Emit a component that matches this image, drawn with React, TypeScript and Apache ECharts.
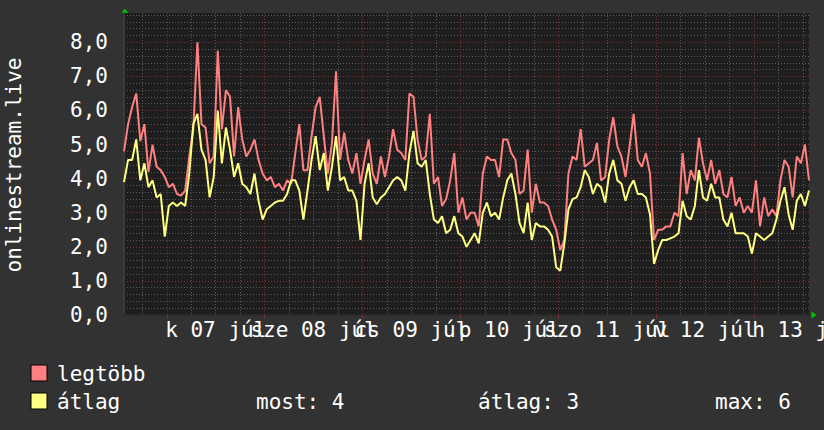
import React, { useEffect, useRef } from "react";
import * as echarts from "echarts";

// hourly samples over one week, starting 06 júl 13:30
const maxVals = [
  4.8, 5.6, 6.1, 6.5, 5.1, 5.6, 4.2, 5.0, 4.35, 4.25,
  4.05, 3.75, 3.85, 3.55, 3.5, 3.65, 4.65, 5.45, 8.0, 5.6,
  5.5, 4.45, 4.65, 7.75, 5.45, 6.6, 6.4, 4.65, 6.1, 5.15,
  4.65, 4.85, 5.15, 4.55, 4.15, 3.95, 4.05, 3.75, 3.85, 3.65,
  3.95, 3.85,
  4.75, 5.6, 4.25, 4.25, 5.25, 6.1, 6.4, 5.25,
  4.15, 5.05, 7.15, 4.55, 5.35, 4.55, 4.15, 4.75, 3.85, 4.55,
  5.15, 4.15, 3.85, 4.65, 4.05, 4.65, 5.45, 4.85, 4.75, 4.55,
  6.5, 6.4, 5.15, 4.55, 4.65, 5.9, 3.85, 4.05, 3.2, 3.4,
  3.95, 4.75, 3.0, 3.45, 2.8,
  3.0, 3.0, 2.6, 4.15, 4.65,
  4.55, 4.55, 4.05, 5.15, 5.15, 4.75, 4.55, 3.55, 3.65, 4.85,
  3.0, 3.85, 3.3, 3.3, 3.2, 2.8, 2.5, 1.9, 2.2, 4.15,
  4.65, 4.55, 5.45, 4.35, 4.45, 4.55, 5.05, 3.95, 4.05, 5.15,
  5.8, 4.95, 4.65, 4.05, 4.95, 5.9, 4.55,
  4.35, 4.75, 4.15,
  2.2, 2.5, 2.5, 2.6, 2.6, 3.0, 2.9, 4.75, 3.55, 4.25,
  3.95, 5.2, 4.45, 3.95, 4.55, 3.85, 4.25, 3.55, 3.45, 4.05,
  3.2, 3.45, 3.0, 3.2, 3.0, 3.95, 2.6, 3.45, 2.9, 3.1,
  2.9, 3.95, 4.55, 4.35, 3.45, 4.65, 4.45, 5.0, 3.95,
];

const avgVals = [
  3.9, 4.55, 4.55, 5.15, 3.95, 4.45, 3.75, 3.95, 3.45, 3.55,
  2.3, 3.2, 3.3, 3.2, 3.3, 3.2, 4.15, 5.6, 5.9, 4.85,
  4.55, 3.45, 4.05, 6.0, 4.45, 5.5, 4.85, 4.05, 4.45, 3.85,
  3.75, 3.55, 4.15, 3.35, 2.8, 3.1, 3.2, 3.3, 3.35, 3.35,
  3.55, 3.95,
  3.95, 3.65, 2.8, 3.65, 4.55, 5.25, 4.25, 4.75,
  3.65, 4.35, 5.25, 3.95, 4.05, 3.65, 3.65, 3.35, 2.2, 3.85,
  4.45, 3.45, 3.25, 3.45, 3.55, 3.75, 3.95, 4.05, 3.95, 3.65,
  4.75, 5.4, 4.45, 4.35, 4.55, 3.55, 2.8, 2.7, 2.9, 2.4,
  2.5, 2.9, 2.4, 2.3, 2.0,
  2.2, 2.4, 2.1, 3.0, 3.3,
  2.9, 3.0, 2.8, 3.45, 3.95, 4.15, 3.55, 2.7, 2.4, 3.3,
  2.2, 2.7, 2.6, 2.6, 2.5, 2.3, 1.4, 1.3, 2.1, 3.1,
  3.4, 3.45, 3.75, 4.25, 4.05, 3.55, 3.85, 3.75, 3.3, 4.15,
  4.55, 3.95, 3.85, 3.35, 3.75, 3.95, 3.55,
  3.55, 3.45, 2.95,
  1.5, 1.9, 2.2, 2.2, 2.25, 2.3, 2.4, 3.35, 2.9, 2.8,
  3.2, 4.25, 3.45, 3.35, 3.85, 3.45, 3.45, 2.8, 2.6, 3.0,
  2.4, 2.4, 2.4, 2.3, 1.8, 2.4, 2.3, 2.2, 2.3, 2.4,
  2.8, 3.35, 3.75, 2.95, 2.5, 3.35, 3.55, 3.2, 3.65,
];

// grid positions (hours from start)
const minorHours = [4.5, 16.5, 22.5, 28.5, 40.5, 46.5, 52.5, 64.5, 70.5, 76.5, 88.5, 94.5, 100.5, 112.5, 118.5, 124.5, 136.5, 142.5, 148.5, 160.5, 166.5];
const majorHours = [10.5, 34.5, 58.5, 82.5, 106.5, 130.5, 154.5];
const labelHours = [22.5, 46.5, 70.5, 94.5, 118.5, 142.5, 166.5];
const dayLabels = ["k 07 júl", "sze 08 júl", "cs 09 júl", "p 10 júl", "szo 11 júl", "v 12 júl", "h 13 júl"];

const majorY = [0, 1, 2, 3, 4, 5, 6, 7, 8];
const minorY = [
  0.2, 0.4, 0.6, 0.8, 1.2, 1.4, 1.6, 1.8, 2.2, 2.4, 2.6, 2.8, 3.2, 3.4, 3.6, 3.8,
  4.2, 4.4, 4.6, 4.8, 5.2, 5.4, 5.6, 5.8, 6.2, 6.4, 6.6, 6.8, 7.2, 7.4, 7.6, 7.8,
  8.2, 8.4, 8.6, 8.8,
];

const seriesNames = ["legtöbb", "átlag"];
const seriesColors = ["#ff8080", "#ffff80"];
const statTexts = ["most: 4", "átlag: 3", "max: 6"];

const FONT = '"DejaVu Sans Mono", monospace';

export default function App() {
  const ref = useRef<HTMLDivElement>(null);
  useEffect(() => {
    if (!ref.current) return;
    const chart = echarts.init(ref.current, null, { renderer: "svg" });
    const hours = maxVals.map((_, i) => i);
    const yMax = 8.86;
    const xMax = 168;
    const dotted = [1, 2];
    const txt = (text: string, x: number, y: number) => ({
      type: "text",
      x,
      y,
      style: { text, fill: "#ffffff", font: `21px ${FONT}`, verticalAlign: "middle" },
    });
    const baseGraphics: any[] = [
      {
        type: "text",
        x: 14,
        y: 165,
        rotation: Math.PI / 2,
        style: {
          text: "onlinestream.live",
          fill: "#ffffff",
          font: `21px ${FONT}`,
          align: "center",
          verticalAlign: "middle",
        },
      },
      {
        type: "polygon",
        shape: { points: [[121.5, 13], [128, 13], [124.8, 8.5]] },
        style: { fill: "#00c800" },
      },
      {
        type: "polygon",
        shape: { points: [[811.5, 311.5], [811.5, 318.5], [816.5, 315]] },
        style: { fill: "#00c800" },
      },
      {
        type: "rect",
        shape: { x: 31, y: 365, width: 16, height: 16 },
        style: { fill: seriesColors[0], stroke: "#000000", lineWidth: 1 },
      },
      {
        type: "rect",
        shape: { x: 31, y: 393, width: 16, height: 16 },
        style: { fill: seriesColors[1], stroke: "#000000", lineWidth: 1 },
      },
      txt(seriesNames[0], 57, 374),
      txt(seriesNames[1], 57, 402),
      txt(statTexts[0], 256, 402),
      txt(statTexts[1], 478, 402),
      txt(statTexts[2], 715, 402),
    ];
    chart.setOption({
      animation: false,
      backgroundColor: "#323232",
      grid: {
        left: 124,
        right: 15,
        top: 13,
        bottom: 115,
        show: true,
        backgroundColor: "#1e1e1e",
        borderWidth: 0,
      },
      xAxis: [
        {
          type: "value",
          min: 0,
          max: xMax,
          position: "bottom",
          axisLine: { show: false },
          axisTick: { show: false, customValues: minorHours },
          splitLine: { show: true, lineStyle: { color: "#5a5a5a", type: dotted, width: 1 } },
          axisLabel: { show: false },
        },
        {
          type: "value",
          min: 0,
          max: xMax,
          position: "bottom",
          axisLine: { show: true, lineStyle: { color: "#2a2a2a", width: 2 } },
          axisTick: { show: true, customValues: majorHours, length: 3, inside: false, lineStyle: { color: "#8a3030" } },
          splitLine: { show: true, lineStyle: { color: "#7a3030", type: dotted, width: 1 } },
          axisLabel: { show: false },
        },
      ],
      yAxis: [
        {
          type: "value",
          min: 0,
          max: yMax,
          position: "left",
          axisLine: { show: false },
          axisTick: { show: false, customValues: minorY },
          splitLine: { show: true, lineStyle: { color: "#5a5a5a", type: dotted, width: 1 } },
          axisLabel: { show: false },
        },
        {
          type: "value",
          min: 0,
          max: yMax,
          position: "left",
          offset: 0,
          axisLine: { show: true, lineStyle: { color: "#3a3a3a", width: 2 } },
          axisTick: { show: false, customValues: majorY },
          splitLine: { show: true, lineStyle: { color: "#7a3030", type: dotted, width: 1 } },
          axisLabel: {
            show: true,
            customValues: majorY,
            showMinLabel: true,
            showMaxLabel: true,
            margin: 16,
            color: "#ffffff",
            fontFamily: FONT,
            fontSize: 21,
            formatter: (v: number) => v.toFixed(1).replace(".", ","),
          },
        },
      ],
      series: [
        {
          name: seriesNames[0],
          type: "line",
          xAxisIndex: 0,
          yAxisIndex: 1,
          showSymbol: false,
          symbol: "none",
          data: hours.map((h, i) => [h, maxVals[i]]),
          lineStyle: { color: seriesColors[0], width: 2 },
          itemStyle: { color: seriesColors[0] },
          z: 3,
        },
        {
          name: seriesNames[1],
          type: "line",
          xAxisIndex: 0,
          yAxisIndex: 1,
          showSymbol: false,
          symbol: "none",
          data: hours.map((h, i) => [h, avgVals[i]]),
          lineStyle: { color: seriesColors[1], width: 2 },
          itemStyle: { color: seriesColors[1] },
          z: 4,
        },
      ],
      graphic: baseGraphics,
    });
    // day labels placed through the x axis scale (they overlap, as in the original)
    const labelGraphics = labelHours.map((h, i) => {
      const px = chart.convertToPixel({ xAxisIndex: 0 }, h) as number;
      return {
        type: "text",
        x: px,
        y: 330,
        style: {
          text: dayLabels[i],
          fill: "#ffffff",
          font: `21px ${FONT}`,
          align: "center",
          verticalAlign: "middle",
        },
      };
    });
    chart.setOption({ graphic: [...baseGraphics, ...labelGraphics] });
    return () => chart.dispose();
  }, []);
  return (
    <div
      ref={ref}
      style={{ position: "fixed", left: 0, top: 0, width: 824, height: 430 }}
    />
  );
}
